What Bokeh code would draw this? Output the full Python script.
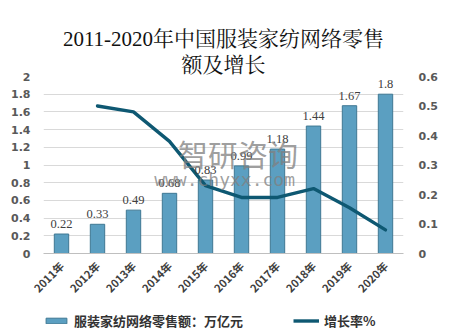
from bokeh.plotting import figure
from bokeh.layouts import column
from bokeh.models import (FactorRange, Range1d, LinearAxis, FixedTicker, Legend,
                          LegendItem, LabelSet, ColumnDataSource, Label, Title)
from bokeh.embed import file_html
from bokeh.resources import INLINE

years = ["2011年", "2012年", "2013年", "2014年", "2015年", "2016年", "2017年", "2018年", "2019年", "2020年"]
sales = [0.22, 0.33, 0.49, 0.68, 0.83, 0.99, 1.18, 1.44, 1.67, 1.8]
rate_years = years[1:]
rates = [0.50, 0.48, 0.38, 0.23, 0.19, 0.19, 0.22, 0.155, 0.08]
left_ticks = [0, 0.2, 0.4, 0.6, 0.8, 1, 1.2, 1.4, 1.6, 1.8, 2]
right_ticks = [0, 0.1, 0.2, 0.3, 0.4, 0.5, 0.6]

title_line1 = "2011-2020年中国服装家纺网络零售"
title_line2 = "额及增长"
bar_name = "服装家纺网络零售额：万亿元"
line_name = "增长率%"

BAR_FILL = "#5b9fc1"
BAR_LINE = "#3f7893"
LINE_COLOR = "#0e5872"

bar_src = ColumnDataSource(dict(x=years, top=sales, lab=[f"{v:g}" for v in sales]))
line_src = ColumnDataSource(dict(x=rate_years, y=rates))

p = figure(x_range=FactorRange(*years), y_range=Range1d(0, 2),
           width=456, height=305,
           output_backend="svg", toolbar_location=None,
           min_border_left=43, min_border_right=53, min_border_top=76, min_border_bottom=52)
p.extra_y_ranges = {"rate": Range1d(0, 0.6)}

tfont = "Liberation Serif, Noto Serif CJK SC, Noto Sans CJK SC"
p.add_layout(Title(text=title_line2, align="center", text_font=tfont, text_font_size="21px",
                   text_font_style="normal", text_color="#111111", standoff=0), "above")
p.add_layout(Title(text=title_line1, align="center", text_font=tfont, text_font_size="21px",
                   text_font_style="normal", text_color="#111111", standoff=0), "above")

bars = p.vbar(x="x", top="top", width=0.4, source=bar_src,
              fill_color=BAR_FILL, line_color=BAR_LINE, line_width=1)
line = p.line(x="x", y="y", source=line_src, y_range_name="rate",
              line_color=LINE_COLOR, line_width=3.4, line_join="round", line_cap="round")

labels = LabelSet(x="x", y="top", text="lab", source=bar_src, text_align="center",
                  text_baseline="bottom", y_offset=6, text_font="Lato",
                  text_font_size="12.5px", text_color="#404040")
p.add_layout(labels)

p.add_layout(Label(x=5.4, y=1.13, text="智研咨询", text_align="center", text_baseline="middle",
                   text_font="Noto Sans CJK SC", text_font_size="30px", text_color="#808080",
                   text_alpha=0.75))
p.add_layout(Label(x=5.03, y=0.84, text="www.chyxx.com", text_align="center", text_baseline="middle",
                   text_font="DejaVu Sans Mono", text_font_size="18px", text_color="#808080",
                   text_alpha=0.75))

# axes
p.yaxis.ticker = FixedTicker(ticks=left_ticks)
p.yaxis.major_label_overrides = {t: f"{t:g}" for t in left_ticks}
ra = LinearAxis(y_range_name="rate", ticker=FixedTicker(ticks=right_ticks))
ra.major_label_overrides = {t: f"{t:g}" for t in right_ticks}
p.add_layout(ra, "right")

for ax in (p.yaxis[0], ra):
    ax.axis_line_color = None
    ax.major_tick_line_color = None
    ax.minor_tick_line_color = None
    ax.major_label_text_font = "DejaVu Sans"
    ax.major_label_text_font_size = "11px"
    ax.major_label_text_font_style = "bold"
    ax.major_label_text_color = "#595959"
p.yaxis[0].major_label_standoff = 7
ra.major_label_standoff = 9

xa = p.xaxis[0]
xa.axis_line_color = "#bfbfbf"
xa.major_tick_line_color = None
xa.major_label_orientation = 0.785
xa.major_label_text_font = "Noto Sans CJK SC"
xa.major_label_text_font_size = "11px"
xa.major_label_text_font_style = "bold"
xa.major_label_text_color = "#404040"
xa.major_label_standoff = 4

p.xgrid.grid_line_color = None
p.ygrid.grid_line_color = "#d9d9d9"
p.outline_line_color = None

# legend strip below the chart (same data, drawn outside its visible range)
lf = figure(width=456, height=28, x_range=FactorRange(*years), y_range=Range1d(10, 11),
            x_axis_location=None, y_axis_location=None,
            output_backend="svg", toolbar_location=None,
            min_border_left=0, min_border_right=0, min_border_top=0, min_border_bottom=0)
lf.grid.visible = False
lf.outline_line_color = None
lb = lf.vbar(x="x", top="top", width=0.4, source=bar_src,
             fill_color=BAR_FILL, line_color=BAR_LINE, line_width=1)
ll = lf.line(x="x", y="y", source=line_src, line_color=LINE_COLOR, line_width=3.4)
legend = Legend(items=[LegendItem(label=bar_name, renderers=[lb]),
                       LegendItem(label=line_name, renderers=[ll])],
                orientation="horizontal", spacing=50, location=(0, 3),
                glyph_width=26, glyph_height=7, label_text_font="Noto Sans CJK SC",
                label_text_font_size="13px", label_text_font_style="bold",
                label_text_color="#333333", border_line_color=None,
                background_fill_alpha=0, padding=2, margin=0)
lf.add_layout(legend, "center")

layout = column(p, lf, spacing=0)
open("out.html", "w").write(file_html(layout, INLINE))
